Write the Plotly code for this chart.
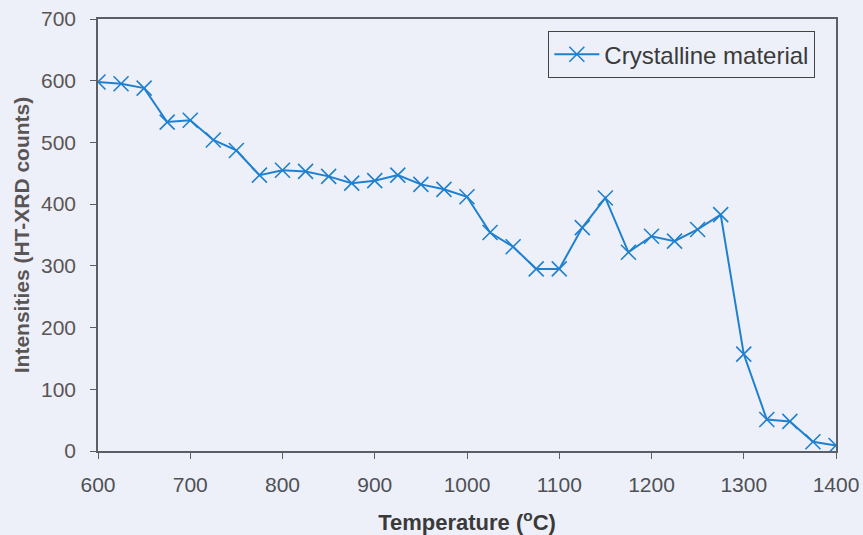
import plotly.graph_objects as go

# HT-XRD intensity of the crystalline phase versus temperature
temperature = [600, 625, 650, 675, 700, 725, 750, 775, 800, 825, 850, 875, 900, 925,
               950, 975, 1000, 1025, 1050, 1075, 1100, 1125, 1150, 1175, 1200, 1225,
               1250, 1275, 1300, 1325, 1350, 1375, 1400]
intensity = [598, 595, 588, 533, 536, 504, 487, 447, 455, 453, 445, 434, 438, 447,
             432, 424, 412, 354, 331, 295, 295, 362, 410, 322, 348, 340, 359, 383,
             157, 51, 48, 15, 9]

x_ticks = [600, 700, 800, 900, 1000, 1100, 1200, 1300, 1400]
y_ticks = [0, 100, 200, 300, 400, 500, 600, 700]

blue = "#1f80d0"
bg = "#eef0f9"
axis_col = "#5a5f66"
font = "Liberation Sans, Arial, sans-serif"

fig = go.Figure(
    go.Scatter(
        x=temperature,
        y=intensity,
        mode="lines+markers",
        name="Crystalline material",
        line=dict(color=blue, width=2),
        marker=dict(symbol="x-thin", size=15, color=blue,
                    line=dict(color=blue, width=1.6)),
    )
)

fig.update_layout(
    width=863,
    height=535,
    margin=dict(l=98, r=27, t=19, b=84),
    paper_bgcolor=bg,
    plot_bgcolor=bg,
    font=dict(family=font, color="#4a4a4a", size=19),
    showlegend=True,
    legend=dict(
        x=0.972, y=0.972, xanchor="right", yanchor="top",
        bgcolor=bg, bordercolor="#444", borderwidth=1,
        font=dict(size=24, color="#3a3a3a"),
        itemwidth=45,
    ),
)

fig.update_xaxes(
    range=[600, 1400],
    tickvals=x_ticks,
    automargin=False,
    ticks="outside", ticklen=6, tickcolor=axis_col,
    showline=True, linecolor=axis_col, linewidth=1.5, mirror=True,
    showgrid=False, zeroline=False,
    ticklabelstandoff=8,
    tickfont=dict(size=21, color="#4d5055"),
    title=dict(text="<b>Temperature (<sup>o</sup>C)</b>",
               font=dict(size=22, color="#3a3a3a"), standoff=20),
)

fig.update_yaxes(
    range=[0, 700],
    tickvals=y_ticks,
    automargin=False,
    ticks="outside", ticklen=6, tickcolor=axis_col,
    showline=True, linecolor=axis_col, linewidth=1.5, mirror=True,
    showgrid=False, zeroline=False,
    ticklabelstandoff=10,
    tickfont=dict(size=21, color="#5a5555"),
    title=dict(text="<b>Intensities (HT-XRD counts)</b>",
               font=dict(size=21, color="#5a5555"), standoff=6),
)

fig.write_html("out.html")
